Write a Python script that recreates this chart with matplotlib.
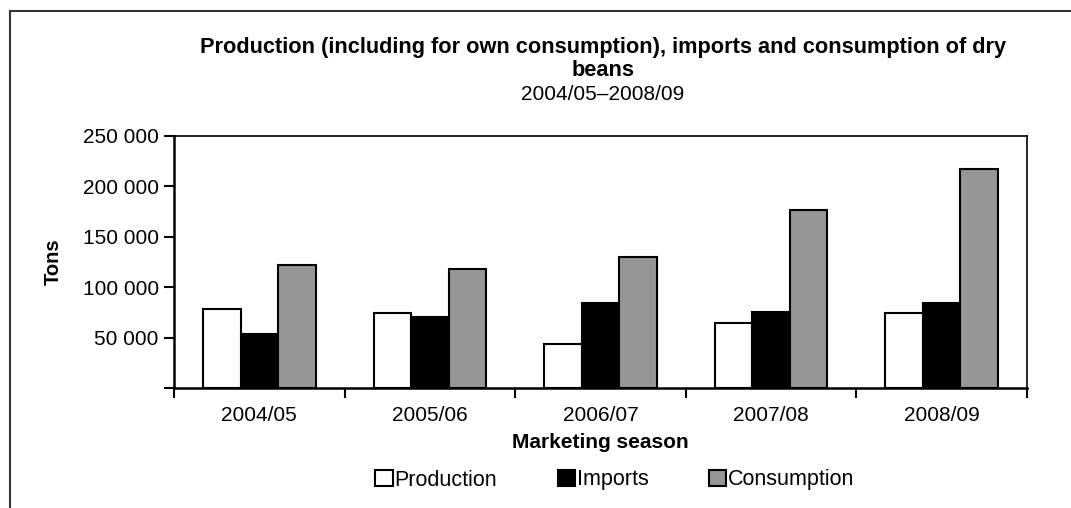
import matplotlib.pyplot as plt
import numpy as np
from matplotlib.lines import Line2D

plt.rcParams['font.family'] = ['Liberation Sans', 'DejaVu Sans']

seasons = ['2004/05', '2005/06', '2006/07', '2007/08', '2008/09']
production = [78000, 74000, 44000, 64500, 74000]
imports = [54000, 70000, 84000, 75000, 84000]
consumption = [122000, 118000, 130000, 176000, 217000]
y_ticks = [0, 50000, 100000, 150000, 200000, 250000]

fig = plt.figure(figsize=(10.71, 5.08), dpi=100)
ax = fig.add_axes([174 / 1071, 1 - 388 / 508, (1027 - 174) / 1071, (388 - 135.7) / 508])

x = np.arange(len(seasons))
w = 0.22
ax.bar(x - w, production, w, color='white', edgecolor='black', linewidth=1.5, label='Production')
ax.bar(x, imports, w, color='black', edgecolor='black', linewidth=1.5, label='Imports')
ax.bar(x + w, consumption, w, color='#969696', edgecolor='black', linewidth=1.5, label='Consumption')

ax.set_xlim(-0.5, len(seasons) - 0.5)
ax.set_ylim(0, 250000)

# category ticks sit on the group boundaries, labels in the middle
ax.set_xticks(np.arange(len(seasons) + 1) - 0.5)
ax.set_xticklabels([])
ax.set_xticks(x, minor=True)
ax.set_xticklabels(seasons, minor=True, fontsize=15)
ax.tick_params(axis='x', which='major', direction='out', length=7, width=1.5)
ax.tick_params(axis='x', which='minor', length=0, pad=13)

ax.set_yticks(y_ticks)
ax.set_yticklabels(['' if v == 0 else f'{v:,}'.replace(',', ' ') for v in y_ticks], fontsize=15)
ax.tick_params(axis='y', direction='out', length=7, width=1.5, pad=4)

ax.spines['left'].set_linewidth(1.8)
ax.spines['bottom'].set_linewidth(1.8)
ax.spines['top'].set_linewidth(1.2)
ax.spines['right'].set_linewidth(1.2)

ax.set_ylabel('Tons', fontsize=14.5, fontweight='bold', labelpad=14)
ax.set_xlabel('Marketing season', fontsize=15, fontweight='bold', labelpad=6)

fig.text(0.563, 1 - 47 / 508, 'Production (including for own consumption), imports and consumption of dry',
         ha='center', va='center', fontsize=15.7, fontweight='bold')
fig.text(0.563, 1 - 71 / 508, 'beans', ha='center', va='center', fontsize=15.7, fontweight='bold')
fig.text(0.563, 1 - 95 / 508, '2004/05\u20132008/09', ha='center', va='center', fontsize=15)

fig.legend(loc='center', bbox_to_anchor=(615 / 1071, 1 - 480 / 508), ncol=3, frameon=False,
           fontsize=15.5, handlelength=0.8, handleheight=0.8, handletextpad=0.1, columnspacing=2.8)

# outer frame, only top and left edges are visible
fig.add_artist(Line2D([10 / 1071, 10 / 1071], [0, 1 - 11 / 508], color='#333333', linewidth=1.5))
fig.add_artist(Line2D([10 / 1071, 1], [1 - 11 / 508, 1 - 11 / 508], color='#333333', linewidth=1.5))

fig.savefig('out.png', dpi=100)
